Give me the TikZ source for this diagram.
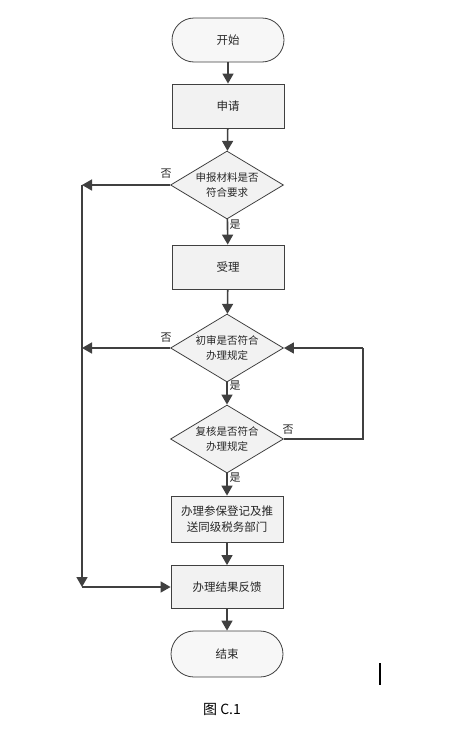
\documentclass[tikz,border=0pt]{standalone}
\usepackage{fontspec}
\newfontfamily\cjk{Noto Sans CJK SC}
\usetikzlibrary{arrows.meta,shapes.geometric}
\definecolor{edge}{HTML}{404040}
\definecolor{boxfill}{HTML}{F2F2F2}
\begin{document}
\begin{tikzpicture}[x=1pt,y=-1pt,
  every node/.style={font=\cjk\fontsize{11.5}{14}\selectfont, text=black!85},
  proc/.style={draw=edge, line width=0.8pt, fill=boxfill, minimum width=112pt, minimum height=44pt, align=center, inner sep=2pt},
  term/.style={draw=edge, line width=0.8pt, fill=boxfill!60, rounded corners=22pt, minimum width=112pt, minimum height=44pt},
  decide/.style={draw=edge, line width=0.8pt, fill=boxfill, diamond, aspect=1.68, minimum width=113pt, minimum height=68pt, inner sep=0pt, align=center, font=\cjk\fontsize{10.5}{15}\selectfont},
  flow/.style={draw=edge, line width=1.6pt, -{Triangle[length=10pt,width=11pt]}},
  plain/.style={draw=edge, line width=1.6pt},
  lbl/.style={font=\cjk\fontsize{11}{12}\selectfont, inner sep=1pt}
]
\useasboundingbox (0,0) rectangle (455,731);
\node[term] (start) at (228,40) {开始};
\node[proc] (apply) at (228,106) {申请};
\node[decide] (d1) at (227,185) {申报材料是否\\符合要求};
\node[proc] (accept) at (228,267) {受理};
\node[decide] (d2) at (227,348) {初审是否符合\\办理规定};
\node[decide] (d3) at (227,439) {复核是否符合\\办理规定};
\node[proc, minimum height=46pt, font=\cjk\fontsize{11.5}{16}\selectfont] (reg) at (227,519) {办理参保登记及推\\送同级税务部门};
\node[proc, minimum height=43pt] (fb) at (227,587) {办理结果反馈};
\node[term, minimum height=46pt, rounded corners=23pt] (end) at (227,654) {结束};

\coordinate (l1) at (82,185);
\coordinate (l2) at (82,348);
\coordinate (l3) at (82,587);
\coordinate (r1) at (363,439);
\coordinate (r2) at (363,348);

\draw[flow] (start) -- (apply);
\draw[flow] (apply) -- (d1);
\draw[flow] (d1) -- (accept);
\draw[flow] (accept) -- (d2);
\draw[flow] (d2) -- (d3);
\draw[flow] (d3) -- (reg);
\draw[flow] (reg) -- (fb);
\draw[flow] (fb) -- (end);

\draw[flow] (d1.west) -- (l1);
\draw[flow] (d2.west) -- (l2);
\draw[flow] (l1) -- (l3);
\draw[flow] (l3) -- (fb.west);
\draw[plain] (d3.east) -- (r1) -- (r2);
\draw[flow] (r2) -- (d2.east);

\node[lbl] (n1) at (166,174) {否};
\node[lbl] (y1) at (235,225) {是};
\node[lbl] (n2) at (166,338) {否};
\node[lbl] (y2) at (235,386) {是};
\node[lbl] (n3) at (288,430) {否};
\node[lbl] (y3) at (235,478) {是};

\draw[black, line width=2pt] (380,663) -- (380,685);
\node[font=\cjk\fontsize{14}{16}\selectfont, text=black] (cap) at (222,709) {图 C.1};
\end{tikzpicture}
\end{document}
